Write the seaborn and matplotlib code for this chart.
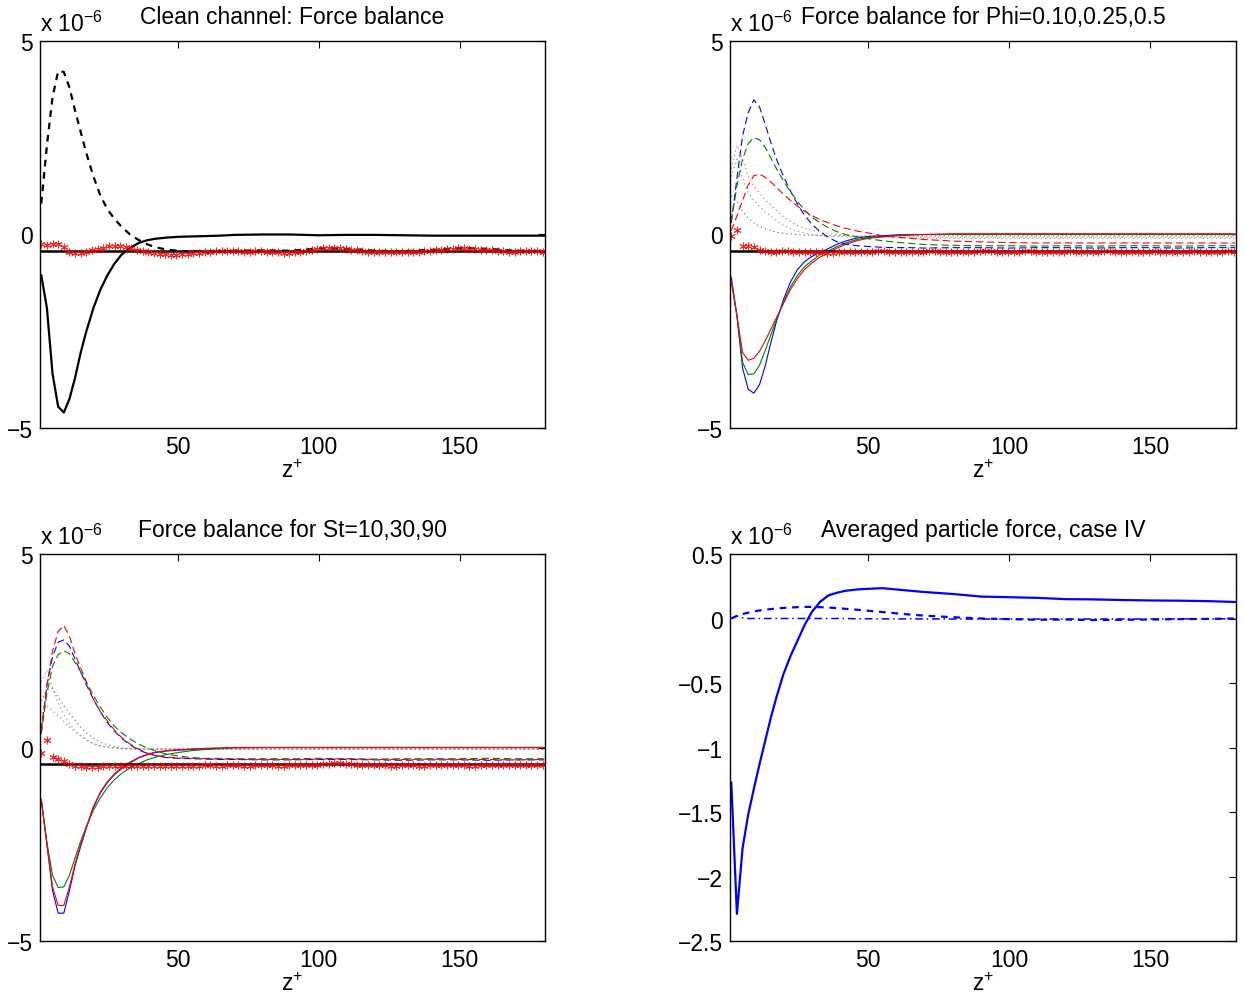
import matplotlib
matplotlib.use('Agg')
import matplotlib.pyplot as plt
import seaborn as sns

# wall distance of the line data (z+)
z_line = [1.5, 3.5, 5.5, 7.5, 9.5, 11.5, 13.5, 15.5, 17.5, 20, 22.5, 25, 27.5, 30, 33, 36, 39, 42,
          46, 50, 55, 60, 65, 70, 80, 90, 100, 110, 120, 130, 140, 150, 160, 170, 180]

# wall distance of the star markers (z+)
z_star = [1.5, 3.5, 5.5, 7.5, 9.5, 11.5, 13.5, 15.5, 17.5, 19.5,
          21.5, 23.5, 25.5, 27.5, 29.5, 31.5, 33.5, 35.5, 37.5, 39.5,
          41.5, 43.5, 45.5, 47.5, 49.5, 51.5, 53.5, 55.5, 57.5, 59.5,
          61.5, 63.5, 65.5, 67.5, 69.5, 71.5, 73.5, 75.5, 77.5, 79.5,
          81.5, 83.5, 85.5, 87.5, 89.5, 91.5, 93.5, 95.5, 97.5, 99.5,
          101.5, 103.5, 105.5, 107.5, 109.5, 111.5, 113.5, 115.5, 117.5, 119.5,
          121.5, 123.5, 125.5, 127.5, 129.5, 131.5, 133.5, 135.5, 137.5, 139.5,
          141.5, 143.5, 145.5, 147.5, 149.5, 151.5, 153.5, 155.5, 157.5, 159.5,
          161.5, 163.5, 165.5, 167.5, 169.5, 171.5, 173.5, 175.5, 177.5, 179.5]

gravity = -0.43  # constant force level (x 1e-6)

# ---- panel 1: clean channel (x 1e-6)
clean_solid = [-1.05, -1.9, -3.6, -4.45, -4.6, -4.25, -3.7, -3.05, -2.5, -1.9, -1.42, -1.05, -0.75,
               -0.52, -0.35, -0.22, -0.15, -0.11, -0.08, -0.06, -0.05, -0.04, -0.03, -0.01, 0.0,
               0.0, -0.02, -0.01, -0.01, -0.02, -0.03, -0.03, -0.03, -0.03, -0.03]
clean_dash = [0.8, 2.3, 3.55, 4.22, 4.2, 3.8, 3.2, 2.65, 2.1, 1.5, 1.0, 0.65, 0.4, 0.2, 0.0,
              -0.14, -0.25, -0.33, -0.39, -0.42, -0.44, -0.44, -0.43, -0.42, -0.41, -0.42,
              -0.36, -0.37, -0.42, -0.43, -0.40, -0.35, -0.37, -0.42, -0.43]
clean_stars = [-0.25, -0.27, -0.25, -0.24, -0.33, -0.46, -0.48, -0.47, -0.44, -0.41,
               -0.37, -0.34, -0.31, -0.30, -0.31, -0.33, -0.36, -0.39, -0.42, -0.45,
               -0.48, -0.50, -0.51, -0.52, -0.52, -0.51, -0.50, -0.49, -0.47, -0.46,
               -0.44, -0.43, -0.42, -0.42, -0.43, -0.43, -0.44, -0.44, -0.43, -0.43,
               -0.44, -0.45, -0.46, -0.47, -0.47, -0.46, -0.45, -0.43, -0.40, -0.38,
               -0.36, -0.35, -0.34, -0.35, -0.37, -0.39, -0.41, -0.43, -0.44, -0.45,
               -0.46, -0.46, -0.45, -0.45, -0.44, -0.44, -0.45, -0.44, -0.43, -0.42,
               -0.41, -0.40, -0.38, -0.37, -0.36, -0.36, -0.37, -0.38, -0.39, -0.40,
               -0.41, -0.42, -0.43, -0.44, -0.44, -0.43, -0.43, -0.42, -0.43, -0.44]

# ---- panel 2: Phi = 0.10 (blue), 0.25 (green), 0.5 (red)
phi_solid_b = [-1.1, -2.1, -3.45, -4.0, -4.1, -3.88, -3.4, -2.8, -2.25, -1.68, -1.22, -0.9, -0.7,
               -0.57, -0.46, -0.36, -0.25, -0.17, -0.09, -0.05, -0.03, -0.01, 0.0, 0.0, 0.0,
               0.0, 0.0, 0.0, 0.0, 0.0, 0.0, 0.0, 0.0, 0.0, 0.0]
phi_solid_g = [-1.2, -2.1, -3.3, -3.62, -3.6, -3.38, -3.0, -2.6, -2.2, -1.75, -1.35, -1.05, -0.83,
               -0.68, -0.52, -0.42, -0.31, -0.22, -0.13, -0.08, -0.05, -0.03, -0.01, 0.0, 0.0,
               0.0, 0.0, 0.0, 0.0, 0.0, 0.0, 0.0, 0.0, 0.0, 0.0]
phi_solid_r = [-1.2, -2.1, -3.05, -3.25, -3.2, -3.02, -2.75, -2.45, -2.15, -1.78, -1.42, -1.13,
               -0.9, -0.74, -0.58, -0.46, -0.35, -0.26, -0.16, -0.1, -0.06, -0.03, -0.01, 0.0,
               0.02, 0.02, 0.02, 0.02, 0.02, 0.02, 0.02, 0.02, 0.02, 0.02, 0.02]
phi_dash_b = [0.3, 1.45, 2.55, 3.15, 3.48, 3.3, 2.85, 2.38, 1.95, 1.5, 1.12, 0.78, 0.49, 0.27, 0.07,
              -0.08, -0.19, -0.25, -0.29, -0.31, -0.33, -0.34, -0.34, -0.35, -0.34, -0.34, -0.35,
              -0.34, -0.34, -0.35, -0.34, -0.34, -0.35, -0.34, -0.34]
phi_dash_g = [0.35, 1.25, 1.95, 2.35, 2.5, 2.45, 2.25, 1.98, 1.7, 1.38, 1.1, 0.85, 0.63, 0.45, 0.3,
              0.17, 0.07, 0.0, -0.06, -0.11, -0.16, -0.2, -0.23, -0.26, -0.28, -0.29, -0.29, -0.3,
              -0.29, -0.3, -0.29, -0.29, -0.3, -0.29, -0.29]
phi_dash_r = [0.1, 0.48, 0.88, 1.28, 1.52, 1.56, 1.48, 1.36, 1.22, 1.04, 0.88, 0.73, 0.6, 0.49,
              0.38, 0.3, 0.22, 0.16, 0.09, 0.04, -0.03, -0.07, -0.1, -0.13, -0.17, -0.19, -0.21,
              -0.22, -0.22, -0.22, -0.22, -0.22, -0.22, -0.22, -0.22]
phi_dot_b = [1.0, 0.85, 0.6, 0.42, 0.3, 0.21, 0.15, 0.1, 0.06, 0.03, 0.01, 0.0, -0.01, -0.02,
             -0.02, -0.03, -0.03, -0.03, -0.04, -0.04, -0.04, -0.04, -0.04, -0.04, -0.04, -0.04,
             -0.04, -0.04, -0.04, -0.04, -0.04, -0.04, -0.04, -0.04, -0.04]
phi_dot_g = [1.5, 1.95, 1.45, 1.08, 0.88, 0.72, 0.58, 0.47, 0.36, 0.24, 0.15, 0.08, 0.04, 0.0,
             -0.03, -0.05, -0.06, -0.06, -0.07, -0.07, -0.07, -0.07, -0.07, -0.07, -0.07, -0.07,
             -0.07, -0.07, -0.07, -0.07, -0.07, -0.07, -0.07, -0.07, -0.07]
phi_dot_r = [1.7, 2.3, 1.95, 1.5, 1.25, 1.06, 0.9, 0.76, 0.62, 0.46, 0.34, 0.23, 0.16, 0.11, 0.07,
             0.03, 0.0, -0.03, -0.05, -0.07, -0.08, -0.09, -0.09, -0.1, -0.1, -0.1, -0.1, -0.1,
             -0.1, -0.1, -0.1, -0.1, -0.1, -0.1, -0.1]
phi_stars = [-0.03, 0.12, -0.31, -0.31, -0.33, -0.40, -0.43, -0.44, -0.44, -0.43,
             -0.43, -0.44, -0.44, -0.45, -0.45, -0.46, -0.46, -0.47, -0.47, -0.46,
             -0.46, -0.45, -0.45, -0.44, -0.44, -0.44, -0.43, -0.43, -0.44, -0.44,
             -0.44, -0.45, -0.45, -0.44, -0.44, -0.43, -0.43, -0.44, -0.44, -0.45,
             -0.45, -0.45, -0.44, -0.44, -0.43, -0.43, -0.43, -0.44, -0.44, -0.45,
             -0.44, -0.44, -0.43, -0.43, -0.44, -0.45, -0.45, -0.44, -0.44, -0.44,
             -0.43, -0.44, -0.45, -0.45, -0.44, -0.44, -0.43, -0.43, -0.44, -0.44,
             -0.45, -0.45, -0.44, -0.44, -0.44, -0.43, -0.44, -0.44, -0.45, -0.45,
             -0.44, -0.44, -0.43, -0.44, -0.44, -0.45, -0.44, -0.44, -0.43, -0.44]

# ---- panel 3: St = 10 (blue), 30 (green), 90 (red)
st_solid_b = [-1.35, -2.5, -3.7, -4.28, -4.28, -3.7, -3.05, -2.55, -2.08, -1.55, -1.17, -0.9, -0.7,
              -0.54, -0.4, -0.27, -0.19, -0.13, -0.09, -0.07, -0.05, -0.03, -0.02, 0.0, 0.0, 0.0,
              0.0, 0.0, 0.0, 0.0, 0.0, 0.0, 0.0, 0.0, 0.0]
st_solid_g = [-1.35, -2.45, -3.3, -3.62, -3.6, -3.3, -2.85, -2.42, -2.05, -1.62, -1.3, -1.03,
              -0.83, -0.67, -0.53, -0.42, -0.32, -0.25, -0.18, -0.13, -0.08, -0.05, -0.03, -0.01,
              0.0, 0.0, 0.0, 0.0, 0.0, 0.0, 0.0, 0.0, 0.0, 0.0, 0.0]
st_solid_r = [-1.35, -2.5, -3.6, -4.08, -4.08, -3.6, -3.0, -2.5, -2.05, -1.53, -1.15, -0.88, -0.68,
              -0.52, -0.38, -0.26, -0.18, -0.12, -0.08, -0.06, -0.04, -0.02, -0.01, 0.0, 0.0, 0.0,
              0.0, 0.0, 0.0, 0.0, 0.0, 0.0, 0.0, 0.0, 0.0]
st_dash_b = [0.45, 1.6, 2.35, 2.72, 2.78, 2.62, 2.28, 1.95, 1.62, 1.25, 0.92, 0.64, 0.42, 0.24,
             0.07, -0.06, -0.15, -0.21, -0.26, -0.28, -0.29, -0.3, -0.31, -0.31, -0.32, -0.32,
             -0.31, -0.31, -0.32, -0.33, -0.32, -0.32, -0.33, -0.32, -0.32]
st_dash_g = [0.35, 1.4, 2.1, 2.4, 2.5, 2.42, 2.2, 1.95, 1.68, 1.35, 1.04, 0.77, 0.55, 0.38, 0.22,
             0.09, -0.01, -0.09, -0.17, -0.22, -0.26, -0.28, -0.28, -0.29, -0.29, -0.29, -0.28,
             -0.29, -0.3, -0.29, -0.29, -0.29, -0.28, -0.29, -0.29]
st_dash_r = [0.4, 1.6, 2.5, 3.0, 3.15, 2.88, 2.42, 2.05, 1.7, 1.25, 0.92, 0.68, 0.45, 0.26, 0.09,
             -0.04, -0.14, -0.21, -0.25, -0.27, -0.28, -0.29, -0.3, -0.3, -0.31, -0.31, -0.3,
             -0.29, -0.31, -0.31, -0.3, -0.31, -0.31, -0.32, -0.31]
st_dot_b = [1.2, 1.5, 1.52, 1.3, 1.08, 0.88, 0.7, 0.52, 0.38, 0.24, 0.14, 0.07, 0.02, -0.01,
            -0.03, -0.04, -0.04, -0.04, -0.04, -0.04, -0.04, -0.04, -0.04, -0.04, -0.04, -0.04,
            -0.04, -0.04, -0.04, -0.04, -0.04, -0.04, -0.04, -0.04, -0.04]
st_dot_g = [1.7, 2.0, 1.55, 1.15, 0.85, 0.62, 0.45, 0.32, 0.2, 0.1, 0.04, 0.0, -0.02, -0.03,
            -0.03, -0.04, -0.04, -0.04, -0.04, -0.04, -0.04, -0.04, -0.04, -0.04, -0.04, -0.04,
            -0.04, -0.04, -0.04, -0.04, -0.04, -0.04, -0.04, -0.04, -0.04]
st_dot_r = [0.9, 1.07, 0.95, 0.82, 0.68, 0.53, 0.4, 0.29, 0.19, 0.1, 0.04, 0.01, -0.01, -0.03,
            -0.03, -0.04, -0.04, -0.04, -0.04, -0.04, -0.04, -0.04, -0.04, -0.04, -0.04, -0.04,
            -0.04, -0.04, -0.04, -0.04, -0.04, -0.04, -0.04, -0.04, -0.04]
st_stars = [-0.13, 0.19, -0.25, -0.29, -0.34, -0.42, -0.47, -0.49, -0.50, -0.50,
            -0.50, -0.49, -0.49, -0.48, -0.48, -0.48, -0.47, -0.47, -0.48, -0.48,
            -0.48, -0.49, -0.49, -0.48, -0.48, -0.47, -0.47, -0.47, -0.47, -0.46,
            -0.46, -0.47, -0.47, -0.46, -0.46, -0.46, -0.47, -0.47, -0.46, -0.46,
            -0.46, -0.46, -0.47, -0.47, -0.46, -0.46, -0.45, -0.45, -0.44, -0.44,
            -0.43, -0.42, -0.41, -0.41, -0.42, -0.43, -0.44, -0.45, -0.45, -0.46,
            -0.46, -0.46, -0.47, -0.47, -0.46, -0.46, -0.46, -0.47, -0.47, -0.46,
            -0.46, -0.45, -0.45, -0.46, -0.46, -0.46, -0.47, -0.47, -0.46, -0.46,
            -0.45, -0.45, -0.46, -0.46, -0.46, -0.45, -0.45, -0.46, -0.46, -0.45]

# ---- panel 4: averaged particle force, case IV (x 1e-6)
avg_solid = [-1.27, -2.29, -1.78, -1.52, -1.32, -1.13, -0.95, -0.77, -0.61, -0.43, -0.29, -0.17,
             -0.05, 0.05, 0.13, 0.18, 0.2, 0.215, 0.225, 0.23, 0.235, 0.225, 0.215, 0.205, 0.19,
             0.17, 0.165, 0.16, 0.15, 0.148, 0.143, 0.14, 0.138, 0.135, 0.128]
avg_dash = [0.0, 0.02, 0.035, 0.045, 0.055, 0.062, 0.068, 0.073, 0.077, 0.082, 0.085, 0.088, 0.09,
            0.09, 0.088, 0.085, 0.08, 0.075, 0.068, 0.06, 0.05, 0.04, 0.03, 0.022, 0.01, 0.0,
            -0.005, -0.01, -0.008, -0.012, -0.01, -0.008, -0.005, -0.003, 0.0]
avg_dashdot = [0.0, 0.02, 0.005, 0.0, 0.0, 0.0, 0.0, 0.0, 0.0, 0.0, 0.0, 0.0, 0.0, 0.0, 0.0, 0.0,
               0.0, 0.0, -0.002, -0.002, -0.003, -0.003, -0.003, -0.003, -0.004, -0.004, -0.004,
               -0.004, -0.004, -0.004, -0.004, -0.004, -0.003, -0.003, -0.002]

titles = ["Clean channel: Force balance", "Force balance for Phi=0.10,0.25,0.5",
          "Force balance for St=10,30,90", "Averaged particle force, case IV"]

BLUE, GREEN, RED = (0, 0, 1), (0, 0.5, 0), (1, 0, 0)
DASH = (0, (6.5, 3.5))
DOT = (0, (1, 2.5))

sns.set_style('white')
plt.rcParams['font.family'] = ['Liberation Sans', 'DejaVu Sans']
plt.rcParams['mathtext.fontset'] = 'custom'
plt.rcParams['mathtext.rm'] = 'Liberation Sans'
plt.rcParams['mathtext.it'] = 'Liberation Sans'
plt.rcParams['font.size'] = 16.5
plt.rcParams['text.color'] = 'black'
plt.rcParams['axes.labelcolor'] = 'black'
plt.rcParams['axes.titlecolor'] = 'black'


def curve(ax, y, color, ls='-', lw=0.8, alpha=1.0):
    sns.lineplot(x=z_line, y=y, ax=ax, color=color, linestyle=ls, linewidth=lw,
                 alpha=alpha, estimator=None, sort=False)


def stars(ax, y):
    sns.lineplot(x=z_star, y=y, ax=ax, color='red', linestyle='none', marker=(6, 2, 0),
                 markersize=5.5, markeredgecolor='red', markeredgewidth=0.7, alpha=0.85,
                 estimator=None, sort=False)


def style_axes(ax, title, yticks, ylabels, ylim):
    ax.set_xlim(1.05, 180.3)
    ax.set_ylim(*ylim)
    ax.set_xticks([50, 100, 150])
    ax.set_xticklabels(['50', '100', '150'])
    ax.set_yticks(yticks)
    ax.set_yticklabels(ylabels)
    ax.tick_params(direction='in', top=True, right=True, length=5, width=0.8,
                   labelsize=16.5, pad=5, colors='black')
    for s in ax.spines.values():
        s.set_color('black')
        s.set_linewidth(1.0)
    ax.set_xlabel('z$^{+}$', fontsize=16.5, labelpad=1)
    ax.set_ylabel('')
    ax.set_title(title, fontsize=16.5, pad=13, color='black')
    ax.text(0.0, 1.012, 'x 10$^{-6}$', transform=ax.transAxes, ha='left', va='bottom',
            fontsize=16.5, color='black')


fig = plt.figure(figsize=(12.45, 10.04), dpi=100)
ax1 = fig.add_axes([0.03213, 0.57271, 0.40562, 0.38546])
ax2 = fig.add_axes([0.58635, 0.57271, 0.40643, 0.38546])
ax3 = fig.add_axes([0.03213, 0.06175, 0.40562, 0.38546])
ax4 = fig.add_axes([0.58635, 0.06175, 0.40643, 0.38546])

# panel 1
curve(ax1, clean_solid, 'black', '-', 1.6)
curve(ax1, clean_dash, 'black', (0, (3, 2.6)), 1.6)
ax1.axhline(gravity, color='black', linewidth=1.8)
stars(ax1, clean_stars)

# panel 2
for ys, c in [(phi_solid_b, BLUE), (phi_solid_g, GREEN), (phi_solid_r, RED)]:
    curve(ax2, ys, c)
for ys, c in [(phi_dash_b, BLUE), (phi_dash_g, GREEN), (phi_dash_r, RED)]:
    curve(ax2, ys, c, DASH)
for ys, c in [(phi_dot_b, BLUE), (phi_dot_g, GREEN), (phi_dot_r, RED)]:
    curve(ax2, ys, c, DOT, 0.9, 0.55)
ax2.axhline(gravity, color='black', linewidth=1.8)
stars(ax2, phi_stars)

# panel 3
for ys, c in [(st_solid_b, BLUE), (st_solid_g, GREEN), (st_solid_r, RED)]:
    curve(ax3, ys, c)
for ys, c in [(st_dash_b, BLUE), (st_dash_g, GREEN), (st_dash_r, RED)]:
    curve(ax3, ys, c, DASH)
for ys, c in [(st_dot_b, BLUE), (st_dot_g, GREEN), (st_dot_r, RED)]:
    curve(ax3, ys, c, DOT, 0.9, 0.55)
ax3.axhline(gravity, color='black', linewidth=1.8)
stars(ax3, st_stars)

# panel 4
curve(ax4, avg_solid, BLUE, '-', 1.6)
curve(ax4, avg_dash, BLUE, (0, (3, 2.6)), 1.6)
curve(ax4, avg_dashdot, BLUE, (0, (5, 2.5, 1, 2.5)), 1.1)

for ax, t in zip([ax1, ax2, ax3], titles[:3]):
    style_axes(ax, t, [-5, 0, 5], ['\u22125', '0', '5'], (-5, 5))
style_axes(ax4, titles[3], [-2.5, -2, -1.5, -1, -0.5, 0, 0.5],
           ['\u22122.5', '\u22122', '\u22121.5', '\u22121', '\u22120.5', '0', '0.5'], (-2.5, 0.5))

fig.savefig('out.png', dpi=100)
